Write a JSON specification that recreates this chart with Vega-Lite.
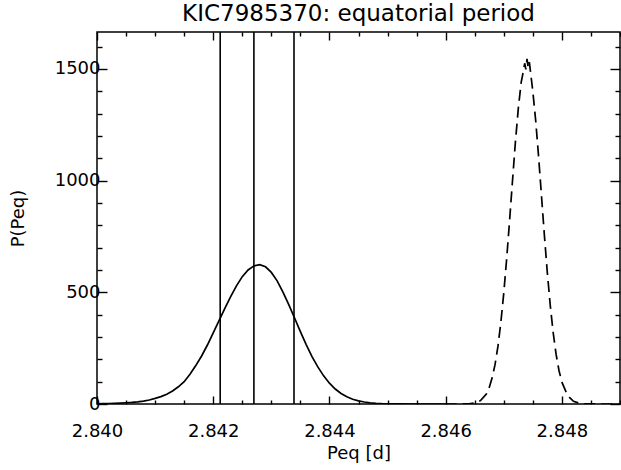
{
  "$schema": "https://vega.github.io/schema/vega-lite/v6.json",
  "width": 523,
  "height": 372,
  "autosize": {"type": "none"},
  "padding": {"left": 97, "top": 32, "right": 1, "bottom": 66},
  "background": "white",
  "title": {"text": "KIC7985370: equatorial period", "fontSize": 23, "font": "DejaVu Sans", "fontWeight": "normal", "color": "black", "offset": 5},
  "config": {
    "view": {"stroke": "black", "strokeWidth": 1.5},
    "axis": {"domain": false, "grid": false, "tickColor": "black", "tickWidth": 1.4, "labelColor": "black", "labelFont": "DejaVu Sans", "labelFontSize": 18, "titleFont": "DejaVu Sans", "titleFontSize": 18, "titleFontWeight": "normal", "titleColor": "black", "labelFlush": false, "labelOverlap": false}
  },
  "datasets": {
    "solid": [
      {"p": 2.8400, "prob": 1}, {"p": 2.8401, "prob": 1.5}, {"p": 2.8402, "prob": 2}, {"p": 2.8403, "prob": 3}, {"p": 2.8404, "prob": 4},
      {"p": 2.8405, "prob": 5.5}, {"p": 2.8406, "prob": 7}, {"p": 2.8407, "prob": 9.5}, {"p": 2.8408, "prob": 13}, {"p": 2.8409, "prob": 18},
      {"p": 2.8410, "prob": 25}, {"p": 2.8411, "prob": 33}, {"p": 2.8412, "prob": 44}, {"p": 2.8413, "prob": 58}, {"p": 2.8414, "prob": 77},
      {"p": 2.8415, "prob": 100}, {"p": 2.8416, "prob": 133}, {"p": 2.8417, "prob": 172}, {"p": 2.8418, "prob": 215}, {"p": 2.8419, "prob": 264},
      {"p": 2.8420, "prob": 318}, {"p": 2.8421, "prob": 373}, {"p": 2.8422, "prob": 428}, {"p": 2.8423, "prob": 481}, {"p": 2.8424, "prob": 529},
      {"p": 2.8425, "prob": 570}, {"p": 2.8426, "prob": 600}, {"p": 2.8427, "prob": 618}, {"p": 2.8428, "prob": 624}, {"p": 2.8429, "prob": 614},
      {"p": 2.8430, "prob": 589}, {"p": 2.8431, "prob": 551}, {"p": 2.8432, "prob": 501}, {"p": 2.8433, "prob": 445}, {"p": 2.8434, "prob": 385},
      {"p": 2.8435, "prob": 324}, {"p": 2.8436, "prob": 266}, {"p": 2.8437, "prob": 212}, {"p": 2.8438, "prob": 166}, {"p": 2.8439, "prob": 126},
      {"p": 2.8440, "prob": 93}, {"p": 2.8441, "prob": 67}, {"p": 2.8442, "prob": 47}, {"p": 2.8443, "prob": 32}, {"p": 2.8444, "prob": 21},
      {"p": 2.8445, "prob": 14}, {"p": 2.8446, "prob": 8.8}, {"p": 2.8447, "prob": 5.4}, {"p": 2.8448, "prob": 3.3}, {"p": 2.8449, "prob": 1.9},
      {"p": 2.8450, "prob": 1.1}, {"p": 2.8452, "prob": 0.4}, {"p": 2.8455, "prob": 0.1}, {"p": 2.8460, "prob": 0}
    ],
    "dashed": [
      {"p": 2.8460, "prob": 0}, {"p": 2.8462, "prob": 0}, {"p": 2.8463, "prob": 0.2}, {"p": 2.8464, "prob": 1.1}, {"p": 2.8465, "prob": 4.4},
      {"p": 2.8466, "prob": 15}, {"p": 2.8467, "prob": 45}, {"p": 2.84675, "prob": 74}, {"p": 2.8468, "prob": 117}, {"p": 2.84685, "prob": 177},
      {"p": 2.8469, "prob": 259}, {"p": 2.84695, "prob": 366}, {"p": 2.8470, "prob": 497}, {"p": 2.84705, "prob": 651}, {"p": 2.8471, "prob": 821},
      {"p": 2.84715, "prob": 999}, {"p": 2.8472, "prob": 1172}, {"p": 2.84725, "prob": 1323}, {"p": 2.8473, "prob": 1441}, {"p": 2.84733, "prob": 1480},
      {"p": 2.84736, "prob": 1525}, {"p": 2.84738, "prob": 1498}, {"p": 2.8474, "prob": 1545}, {"p": 2.84742, "prob": 1505}, {"p": 2.84744, "prob": 1530},
      {"p": 2.84747, "prob": 1465}, {"p": 2.8475, "prob": 1399}, {"p": 2.84755, "prob": 1266}, {"p": 2.8476, "prob": 1104}, {"p": 2.84765, "prob": 928},
      {"p": 2.8477, "prob": 751}, {"p": 2.84775, "prob": 586}, {"p": 2.8478, "prob": 441}, {"p": 2.84785, "prob": 320}, {"p": 2.8479, "prob": 223},
      {"p": 2.84795, "prob": 150}, {"p": 2.8480, "prob": 98}, {"p": 2.8481, "prob": 37}, {"p": 2.8482, "prob": 12}, {"p": 2.8483, "prob": 3.4},
      {"p": 2.8484, "prob": 0.8}, {"p": 2.8485, "prob": 0.2}, {"p": 2.8487, "prob": 0}, {"p": 2.8490, "prob": 0}
    ],
    "lines": [{"p": 2.84212}, {"p": 2.84270}, {"p": 2.84339}]
  },
  "layer": [
    {
      "data": {"name": "solid"},
      "mark": {"type": "line", "color": "black", "strokeWidth": 1.7, "clip": true},
      "encoding": {
        "x": {"field": "p", "type": "quantitative", "scale": {"domain": [2.840, 2.849], "zero": false, "nice": false},
          "axis": {"orient": "bottom", "title": "Peq [d]", "titlePadding": 0,
            "values": [2.840, 2.8405, 2.841, 2.8415, 2.842, 2.8425, 2.843, 2.8435, 2.844, 2.8445, 2.845, 2.8455, 2.846, 2.8465, 2.847, 2.8475, 2.848, 2.8485, 2.849],
            "tickSize": {"condition": {"test": "abs(datum.value*500 - round(datum.value*500)) < 0.01", "value": -8}, "value": -4},
            "labelExpr": "abs(datum.value*500 - round(datum.value*500)) < 0.01 ? format(datum.value, '.3f') : ''",
            "labelPadding": 26}},
        "y": {"field": "prob", "type": "quantitative", "scale": {"domain": [0, 1665], "nice": false},
          "axis": {"orient": "left", "title": "P(Peq)", "titlePadding": 27,
            "values": [0, 100, 200, 300, 400, 500, 600, 700, 800, 900, 1000, 1100, 1200, 1300, 1400, 1500, 1600],
            "tickSize": {"condition": {"test": "datum.value % 500 == 0", "value": -10}, "value": -5},
            "labelExpr": "datum.value % 500 == 0 ? format(datum.value, 'd') : ''",
            "labelPadding": 7}}
      }
    },
    {
      "data": {"name": "dashed"},
      "mark": {"type": "line", "color": "black", "strokeWidth": 1.7, "strokeDash": [11, 6], "clip": true},
      "encoding": {
        "x": {"field": "p", "type": "quantitative",
          "axis": {"orient": "top", "title": null, "labels": false,
            "values": [2.840, 2.8405, 2.841, 2.8415, 2.842, 2.8425, 2.843, 2.8435, 2.844, 2.8445, 2.845, 2.8455, 2.846, 2.8465, 2.847, 2.8475, 2.848, 2.8485, 2.849],
            "tickSize": {"condition": {"test": "abs(datum.value*500 - round(datum.value*500)) < 0.01", "value": -8}, "value": -4}}},
        "y": {"field": "prob", "type": "quantitative",
          "axis": {"orient": "right", "title": null, "labels": false,
            "values": [0, 100, 200, 300, 400, 500, 600, 700, 800, 900, 1000, 1100, 1200, 1300, 1400, 1500, 1600],
            "tickSize": {"condition": {"test": "datum.value % 500 == 0", "value": -10}, "value": -5}}}
      }
    },
    {
      "data": {"name": "lines"},
      "mark": {"type": "rule", "color": "black", "strokeWidth": 1.6},
      "encoding": {"x": {"field": "p", "type": "quantitative", "axis": null}}
    }
  ],
  "resolve": {"axis": {"x": "independent", "y": "independent"}}
}
